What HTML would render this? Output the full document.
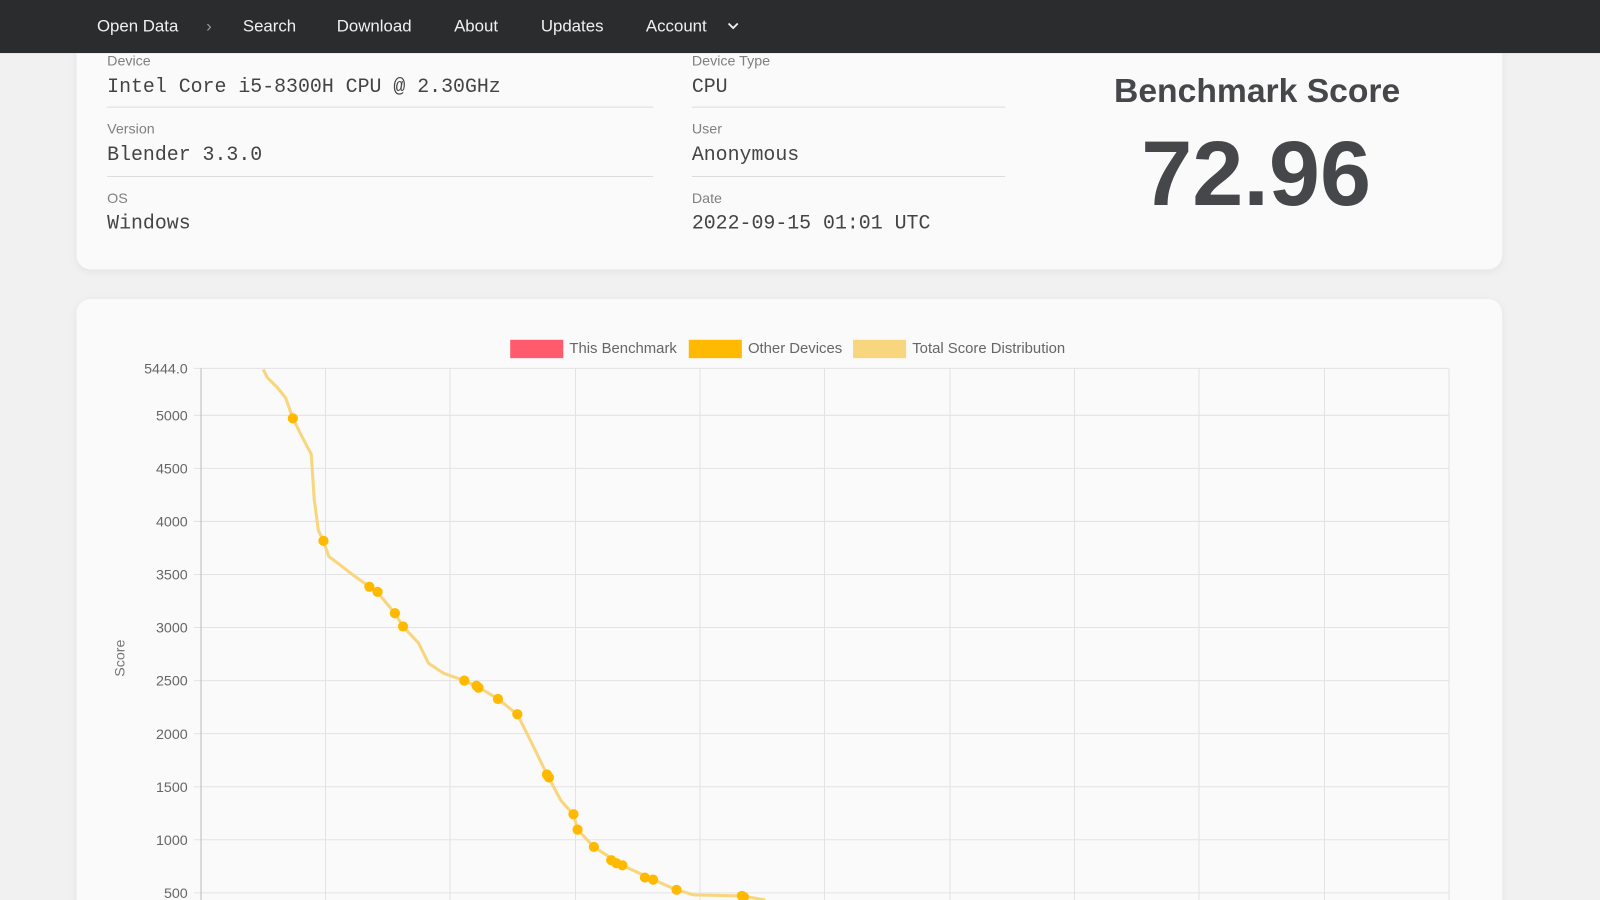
<!DOCTYPE html>
<html><head><meta charset="utf-8"><style>html,body{margin:0;padding:0;background:#f1f1f2;overflow:hidden}svg{display:block}</style></head>
<body>
<svg width="1600" height="900" viewBox="0 0 1568 882" xmlns="http://www.w3.org/2000/svg" font-family="Liberation Sans, sans-serif">
<defs><filter id="sh" x="-5%" y="-20%" width="110%" height="140%"><feDropShadow dx="0" dy="2" stdDeviation="4" flood-color="#000" flood-opacity="0.06"/></filter></defs>
<rect width="1568" height="882" fill="#f1f1f2"/>
<rect x="75" y="-20" width="1397" height="284" rx="14" fill="#fafafb" filter="url(#sh)"/>
<rect x="75" y="293" width="1397" height="620" rx="14" fill="#fafafb" filter="url(#sh)"/>
<rect x="0" y="0" width="1568" height="52" fill="#2b2c2e"/>
<g fill="#f0f0f0" font-size="16.5">
<text x="95" y="31">Open Data</text><text x="202" y="31" fill="#999">›</text>
<text x="238" y="31">Search</text><text x="330" y="31">Download</text><text x="445" y="31">About</text>
<text x="530" y="31">Updates</text><text x="633" y="31">Account</text></g>
<path d="M714 23l4.5 4.5 4.5-4.5" stroke="#f0f0f0" stroke-width="1.8" fill="none"/>
<g fill="#808080" font-size="14">
<text x="105" y="64">Device</text><text x="678" y="64">Device Type</text>
<text x="105" y="131">Version</text><text x="678" y="131">User</text>
<text x="105" y="199">OS</text><text x="678" y="199">Date</text></g>
<g fill="#444" font-size="19.5" font-family="Liberation Mono, monospace">
<text x="105" y="90">Intel Core i5-8300H CPU @ 2.30GHz</text><text x="678" y="90">CPU</text>
<text x="105" y="157">Blender 3.3.0</text><text x="678" y="157">Anonymous</text>
<text x="105" y="224">Windows</text><text x="678" y="224">2022-09-15 01:01 UTC</text></g>
<g stroke="#dcdcdc" stroke-width="1"><path d="M105 105H640M678 105H985M105 173H640M678 173H985"/></g>
<text x="1232" y="100" text-anchor="middle" font-size="33" font-weight="bold" fill="#46474a">Benchmark Score</text>
<text x="1231" y="201" text-anchor="middle" font-size="90" font-weight="bold" fill="#46474a">72.96</text>
<rect x="500" y="333" width="52" height="18" fill="#ff5a6e"/><rect x="675" y="333" width="52" height="18" fill="#ffb900"/><rect x="836" y="333" width="52" height="18" fill="#f8d67e"/>
<g fill="#666" font-size="14.6"><text x="558" y="346">This Benchmark</text><text x="733" y="346">Other Devices</text><text x="894" y="346">Total Score Distribution</text></g>
<g stroke="#e3e3e6" stroke-width="1">
<path d="M190 361H1420M190 407H1420M190 459H1420M190 511H1420M190 563H1420M190 615H1420M190 667H1420M190 719H1420M190 771H1420M190 823H1420M190 875H1420"/>
<path d="M319 361V882M441 361V882M564 361V882M686 361V882M808 361V882M931 361V882M1053 361V882M1175 361V882M1298 361V882M1420 361V882"/></g>
<path d="M197 361V882" stroke="#bbb" stroke-width="1"/>
<g fill="#666" font-size="14" text-anchor="end">
<text x="184" y="366">5444.0</text><text x="184" y="412">5000</text><text x="184" y="464">4500</text><text x="184" y="516">4000</text><text x="184" y="568">3500</text><text x="184" y="620">3000</text><text x="184" y="672">2500</text><text x="184" y="724">2000</text><text x="184" y="776">1500</text><text x="184" y="828">1000</text><text x="184" y="880">500</text></g>
<text transform="translate(122,645) rotate(-90)" text-anchor="middle" font-size="14" fill="#777">Score</text>
<path d="M258 362L262 370 272 380 280 390 287 410 297 430 305 445 308 490 312 520 317 530 322 545 335 555 348 565 362 575 372 583 387 601 395 614 410 630 420 650 435 660 455 667 470 674 488 685 507 700 522 730 536 759 550 785 562 798 566 813 582 830 610 848 640 862 663 872 680 877 727 878 750 882" fill="none" stroke="#f8d67e" stroke-width="3" stroke-linejoin="round"/>
<g fill="#ffb900">
<circle cx="287" cy="410" r="5"/><circle cx="317" cy="530" r="5"/><circle cx="362" cy="575" r="5"/><circle cx="370" cy="580" r="5"/><circle cx="387" cy="601" r="5"/><circle cx="395" cy="614" r="5"/><circle cx="455" cy="667" r="5"/><circle cx="467" cy="672" r="5"/><circle cx="469" cy="674" r="5"/><circle cx="488" cy="685" r="5"/><circle cx="507" cy="700" r="5"/><circle cx="536" cy="759" r="5"/><circle cx="538" cy="762" r="5"/><circle cx="562" cy="798" r="5"/><circle cx="566" cy="813" r="5"/><circle cx="582" cy="830" r="5"/><circle cx="599" cy="843" r="5"/><circle cx="604" cy="846" r="5"/><circle cx="610" cy="848" r="5"/><circle cx="632" cy="860" r="5"/><circle cx="640" cy="862" r="5"/><circle cx="663" cy="872" r="5"/><circle cx="727" cy="878" r="5"/><circle cx="729" cy="879" r="5"/></g>
</svg>
</body></html>
